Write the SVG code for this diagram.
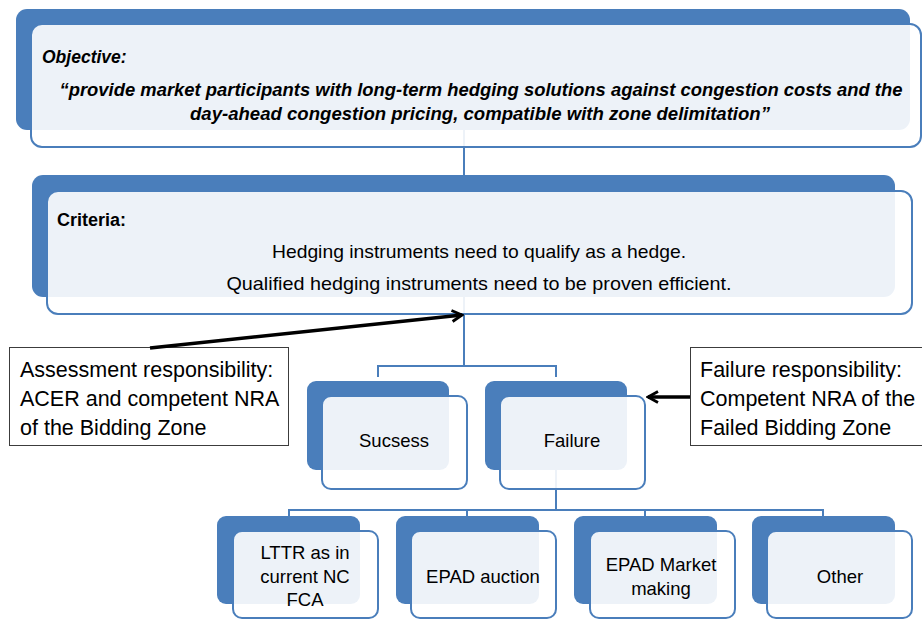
<svg xmlns="http://www.w3.org/2000/svg" width="922" height="620" viewBox="0 0 922 620">
<defs>
<style>
.back{fill:#4A7EBB;}
.front{fill:#FFFFFF;fill-opacity:0.9;stroke:#4A7EBB;stroke-width:2;}
.conn{fill:none;stroke:#4A7EBB;stroke-width:2;}
.call{fill:#FFFFFF;stroke:#3C3C3C;stroke-width:1;}
.arrow{fill:none;stroke:#000000;stroke-width:3.5;}
text{font-family:"Liberation Sans",Arial,sans-serif;fill:#000000;}
.t{font-size:18.5px;text-anchor:middle;}
.c{font-size:21.5px;}
.obj{font-size:17.5px;font-weight:bold;font-style:italic;}
</style>
<marker id="ah" viewBox="0 0 14 14" refX="12" refY="7" markerWidth="14" markerHeight="14" markerUnits="userSpaceOnUse" orient="auto">
<path d="M2,1.5 L12,7 L2,12.5" fill="none" stroke="#000000" stroke-width="2.8"/>
</marker>
</defs>
<rect width="922" height="620" fill="#FFFFFF"/>
<g id="connectors">
<path class="conn" d="M464,130 V175"/>
<path class="conn" d="M464,297 V366 M378,377 V366 H556 V377"/>
<path class="conn" d="M556,470 V510 M289,526 V510 H823 V526 M467,510 V526 M645,510 V526"/>
</g>
<g id="objective">
<rect class="back" x="16" y="9" width="894" height="121" rx="11"/>
<rect class="front" x="31" y="24" width="890" height="123" rx="11"/>
<text class="obj" x="42" y="63">Objective:</text>
<text class="obj" x="481" y="96" text-anchor="middle" textLength="843" lengthAdjust="spacingAndGlyphs">“provide market participants with long-term hedging solutions against congestion costs and the</text>
<text class="obj" x="480" y="120" text-anchor="middle" textLength="580" lengthAdjust="spacingAndGlyphs">day-ahead congestion pricing, compatible with zone delimitation”</text>
</g>
<g id="criteria">
<rect class="back" x="32" y="175" width="863" height="122" rx="11"/>
<rect class="front" x="47" y="191" width="865" height="123" rx="11"/>
<text x="57" y="226" style="font-size:18px;font-weight:bold">Criteria:</text>
<text class="t" x="479" y="258" textLength="414" lengthAdjust="spacingAndGlyphs">Hedging instruments need to qualify as a hedge.</text>
<text class="t" x="479" y="290" textLength="505" lengthAdjust="spacingAndGlyphs">Qualified hedging instruments need to be proven efficient.</text>
</g>
<g id="sucsess">
<rect class="back" x="307" y="381" width="142" height="89" rx="9"/>
<rect class="front" x="322" y="396" width="145" height="93" rx="9"/>
<text class="t" x="394" y="447">Sucsess</text>
</g>
<g id="failure">
<rect class="back" x="485" y="381" width="142" height="89" rx="9"/>
<rect class="front" x="500" y="396" width="145" height="93" rx="9"/>
<text class="t" x="572" y="447">Failure</text>
</g>
<g id="lttr">
<rect class="back" x="217" y="516" width="143" height="88" rx="9"/>
<rect class="front" x="233" y="531" width="145" height="87" rx="9"/>
<text class="t" x="305" y="559">LTTR as in</text>
<text class="t" x="305" y="583">current NC</text>
<text class="t" x="305" y="606">FCA</text>
</g>
<g id="epad-auction">
<rect class="back" x="396" y="516" width="143" height="88" rx="9"/>
<rect class="front" x="411" y="531" width="145" height="87" rx="9"/>
<text class="t" x="483" y="583">EPAD auction</text>
</g>
<g id="epad-market">
<rect class="back" x="574" y="516" width="143" height="88" rx="9"/>
<rect class="front" x="590" y="531" width="145" height="87" rx="9"/>
<text class="t" x="661" y="571">EPAD Market</text>
<text class="t" x="661" y="595">making</text>
</g>
<g id="other">
<rect class="back" x="752" y="516" width="143" height="88" rx="9"/>
<rect class="front" x="767" y="531" width="145" height="87" rx="9"/>
<text class="t" x="840" y="583">Other</text>
</g>
<g id="assessment">
<rect class="call" x="9.5" y="347.5" width="279" height="98"/>
<text class="c" x="20" y="377">Assessment responsibility:</text>
<text class="c" x="20" y="406">ACER and competent NRA</text>
<text class="c" x="20" y="435">of the Bidding Zone</text>
</g>
<g id="failure-resp">
<rect class="call" x="690.5" y="347.5" width="240" height="98"/>
<text class="c" x="700" y="377">Failure responsibility:</text>
<text class="c" x="700" y="406">Competent NRA of the</text>
<text class="c" x="700" y="435">Failed Bidding Zone</text>
</g>
<g id="arrows">
<path class="arrow" d="M150,348 L462,315" marker-end="url(#ah)"/>
<path class="arrow" d="M690,397 L648,397" marker-end="url(#ah)"/>
</g>
</svg>
